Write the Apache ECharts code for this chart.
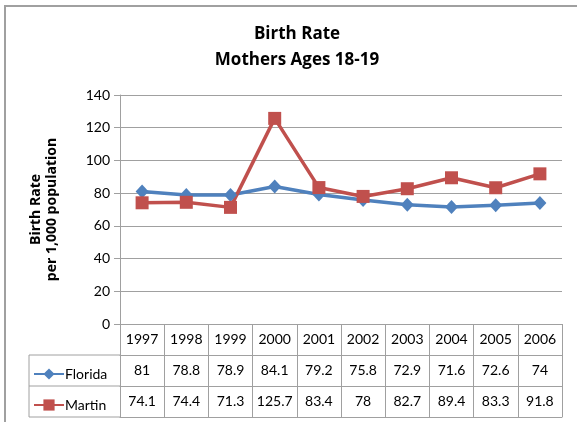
<!DOCTYPE html>
<html>
<head>
<meta charset="utf-8">
<script src="https://cdn.jsdelivr.net/npm/echarts@6/dist/echarts.min.js"></script>
<style>
  html, body { margin: 0; padding: 0; background: #fff; }
  #chart { width: 577px; height: 422px; }
</style>
</head>
<body>
<div id="chart"></div>
<script>
// 数据
let years = ["1997", "1998", "1999", "2000", "2001", "2002", "2003", "2004", "2005", "2006"];
let florida = [81, 78.8, 78.9, 84.1, 79.2, 75.8, 72.9, 71.6, 72.6, 74];
let martin = [74.1, 74.4, 71.3, 125.7, 83.4, 78, 82.7, 89.4, 83.3, 91.8];

let font = "Lato";
let boldFont = "Open Sans";
let gray = "#a0a0a0";
let rowH = 31;

let chart = echarts.init(document.getElementById("chart"));

// 表格下面几行用 x 轴画
function tableAxis(offset, values, showLabel) {
  return {
    type: "category",
    data: years,
    position: "bottom",
    offset: offset,
    boundaryGap: true,
    axisLine: { show: true, lineStyle: { color: gray, width: 1 } },
    axisTick: { show: showLabel, interval: 0, length: rowH, lineStyle: { color: gray } },
    axisLabel: {
      show: showLabel,
      interval: 0,
      margin: 8,
      color: "#000",
      fontFamily: font,
      fontSize: 14,
      formatter: (v, i) => values ? String(values[i]) : v
    },
    splitLine: { show: false }
  };
}

let option = {
  animation: false,
  backgroundColor: "#fff",
  title: {
    text: "Birth Rate\nMothers Ages 18-19",
    left: 292,
    top: 16,
    textAlign: "center",
    textStyle: {
      fontFamily: boldFont,
      fontWeight: "bold",
      fontSize: 17,
      lineHeight: 26,
      color: "#000"
    }
  },
  legend: {
    orient: "vertical",
    left: 28,
    top: 362,
    itemGap: rowH - 14,
    itemWidth: 30,
    itemHeight: 14,
    textStyle: { fontFamily: font, fontSize: 14, color: "#000", padding: [0, 0, 0, -4] },
    data: ["Florida", "Martin"]
  },
  grid: { left: 120, right: 15, top: 95, bottom: 98 },
  xAxis: [
    tableAxis(0, null, true),
    tableAxis(rowH, florida, true),
    tableAxis(rowH * 2, martin, true),
    tableAxis(rowH * 3, null, false)
  ],
  yAxis: {
    type: "value",
    min: 0,
    max: 140,
    interval: 20,
    name: "Birth Rate\nper 1,000 population",
    nameLocation: "middle",
    nameGap: 60,
    nameTextStyle: {
      fontFamily: boldFont,
      fontWeight: "bold",
      fontSize: 14,
      lineHeight: 16,
      color: "#000"
    },
    axisLine: { show: true, lineStyle: { color: gray } },
    axisTick: { show: true, length: 6, lineStyle: { color: gray } },
    axisLabel: { color: "#000", fontFamily: font, fontSize: 14, margin: 10 },
    splitLine: { lineStyle: { color: gray, width: 1 } }
  },
  graphic: [
    // 外框
    { type: "rect", shape: { x: 5, y: 6, width: 620, height: 460 }, style: { fill: "none", stroke: gray, lineWidth: 2 } },
    // 图例列
    { type: "line", shape: { x1: 29, y1: 324 + rowH, x2: 120, y2: 324 + rowH }, style: { stroke: gray, lineWidth: 1 } },
    { type: "line", shape: { x1: 29, y1: 324 + rowH * 2, x2: 120, y2: 324 + rowH * 2 }, style: { stroke: gray, lineWidth: 1 } },
    { type: "line", shape: { x1: 29, y1: 324 + rowH * 3, x2: 120, y2: 324 + rowH * 3 }, style: { stroke: gray, lineWidth: 1 } },
    { type: "line", shape: { x1: 29, y1: 324 + rowH, x2: 29, y2: 324 + rowH * 3 }, style: { stroke: gray, lineWidth: 1 } }
  ],
  series: [
    {
      name: "Florida",
      type: "line",
      data: florida,
      color: "#4F81BD",
      symbol: "diamond",
      symbolSize: [13, 14],
      lineStyle: { width: 3.5 },
      itemStyle: { color: "#4F81BD" }
    },
    {
      name: "Martin",
      type: "line",
      data: martin,
      color: "#C0504D",
      symbol: "rect",
      symbolSize: 13,
      lineStyle: { width: 3.5 },
      itemStyle: { color: "#C0504D" }
    }
  ]
};

chart.setOption(option, true);
</script>
</body>
</html>
